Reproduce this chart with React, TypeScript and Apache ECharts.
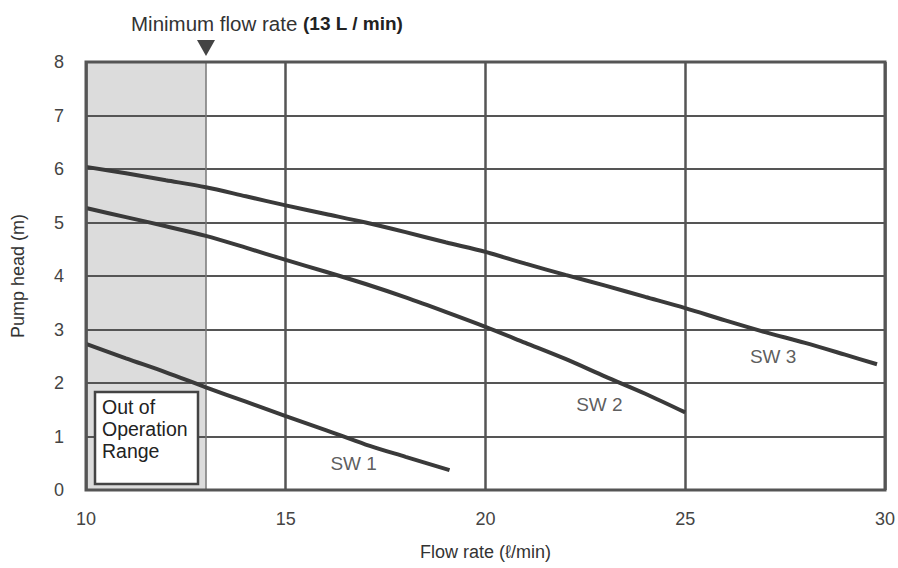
import React, { useEffect, useRef } from "react";
import * as echarts from "echarts";

const sw1X = [10, 11, 12, 13, 14, 15, 16, 17, 18, 19.1];
const sw1Y = [2.73, 2.46, 2.2, 1.92, 1.65, 1.38, 1.12, 0.85, 0.62, 0.37];

const sw2X = [10, 11, 12, 13, 14, 15, 16, 17, 18, 19, 20, 21, 22, 23, 24, 25];
const sw2Y = [5.27, 5.1, 4.93, 4.75, 4.53, 4.3, 4.08, 3.85, 3.6, 3.33, 3.05, 2.75, 2.45, 2.12, 1.8, 1.45];

const sw3X = [10, 11, 12, 13, 14, 15, 16, 17, 18, 19, 20, 21, 22, 23, 24, 25, 26, 27, 28, 29, 29.8];
const sw3Y = [6.04, 5.92, 5.79, 5.66, 5.49, 5.32, 5.16, 5.0, 4.82, 4.63, 4.45, 4.23, 4.02, 3.82, 3.61, 3.4, 3.17, 2.95, 2.75, 2.53, 2.35];

const curveNames = ["SW 1", "SW 2", "SW 3"];
const labelPos: [number, number][] = [[16.7, 0.5], [22.85, 1.6], [27.2, 2.5]];
const minFlow = 13;

const zip = (xs: number[], ys: number[]) => xs.map((x, i) => [x, ys[i]]);

export default function App() {
  const ref = useRef<HTMLDivElement>(null);
  useEffect(() => {
    if (!ref.current) return;
    const chart = echarts.init(ref.current, null, { renderer: "svg" });
    const lineColor = "#3a3a3a";
    const font = "Liberation Sans";
    const curve = (name: string, data: number[][]) => ({
      name,
      type: "line",
      data,
      smooth: 0.3,
      symbol: "none",
      lineStyle: { color: lineColor, width: 4 },
      z: 5,
    });
    chart.setOption({
      animation: false,
      backgroundColor: "#fff",
      grid: {
        left: 86,
        right: 12,
        top: 62,
        bottom: 78,
        show: true,
        borderColor: "#555",
        borderWidth: 3,
        backgroundColor: "transparent",
        z: 10,
      },
      title: {
        text: "{n|Minimum flow rate }{b|(13 L / min)}",
        left: 126,
        top: 8,
        textStyle: {
          fontWeight: "normal",
          rich: {
            n: { fontFamily: font, fontSize: 20.5, fontWeight: "normal", color: "#333" },
            b: { fontFamily: font, fontSize: 19, fontWeight: "bold", color: "#222" },
          },
        },
      },
      xAxis: {
        type: "value",
        min: 10,
        max: 30,
        interval: 5,
        z: 3,
        name: "Flow rate (ℓ/min)",
        nameLocation: "middle",
        nameGap: 53,
        nameTextStyle: { fontFamily: font, fontSize: 18, color: "#333" },
        axisLine: { show: false },
        axisTick: { show: false },
        axisLabel: { fontFamily: font, fontSize: 18, color: "#444", margin: 20 },
        splitLine: { show: true, lineStyle: { color: "#555", width: 2.5 } },
      },
      yAxis: {
        type: "value",
        min: 0,
        max: 8,
        interval: 1,
        z: 3,
        name: "Pump head (m)",
        nameLocation: "middle",
        nameGap: 59,
        nameTextStyle: { fontFamily: font, fontSize: 18, color: "#333" },
        axisLine: { show: false },
        axisTick: { show: false },
        axisLabel: { fontFamily: font, fontSize: 18, color: "#444", margin: 22 },
        splitLine: { show: true, lineStyle: { color: "#555", width: 2 } },
      },
      series: [
        {
          type: "line",
          data: [],
          z: 1,
          markArea: {
            silent: true,
            itemStyle: { color: "#dcdcdc" },
            data: [[{ xAxis: 10, yAxis: 0 }, { xAxis: minFlow, yAxis: 8 }]],
          },
          markLine: {
            silent: true,
            symbol: "none",
            label: { show: false },
            lineStyle: { color: "#777", width: 1.5, type: "solid" },
            data: [{ xAxis: minFlow }],
          },
        },
        curve(curveNames[0], zip(sw1X, sw1Y)),
        curve(curveNames[1], zip(sw2X, sw2Y)),
        curve(curveNames[2], zip(sw3X, sw3Y)),
        {
          type: "scatter",
          symbolSize: 0,
          data: labelPos.map((p, i) => ({ value: p, name: curveNames[i] })),
          label: {
            show: true,
            position: "inside",
            formatter: (p: any) => p.name,
            fontFamily: font,
            fontSize: 19,
            color: "#333",
          },
          z: 6,
        },
      ],
      graphic: [
        {
          type: "polygon",
          shape: { points: [[197, 40], [215, 40], [206, 56]] },
          style: { fill: "#444" },
          z: 20,
        },
        {
          type: "rect",
          shape: { x: 95, y: 392, width: 103, height: 92 },
          style: { fill: "#fff", stroke: "#444", lineWidth: 2.5 },
          z: 20,
        },
        {
          type: "text",
          x: 102,
          y: 396,
          style: {
            text: "Out of\nOperation\nRange",
            fontFamily: font,
            fontSize: 19.5,
            lineHeight: 22,
            fill: "#222",
          },
          z: 21,
        },
      ],
    });
    return () => chart.dispose();
  }, []);
  return <div ref={ref} style={{ width: 898, height: 568, position: "absolute", left: 0, top: 0 }} />;
}
